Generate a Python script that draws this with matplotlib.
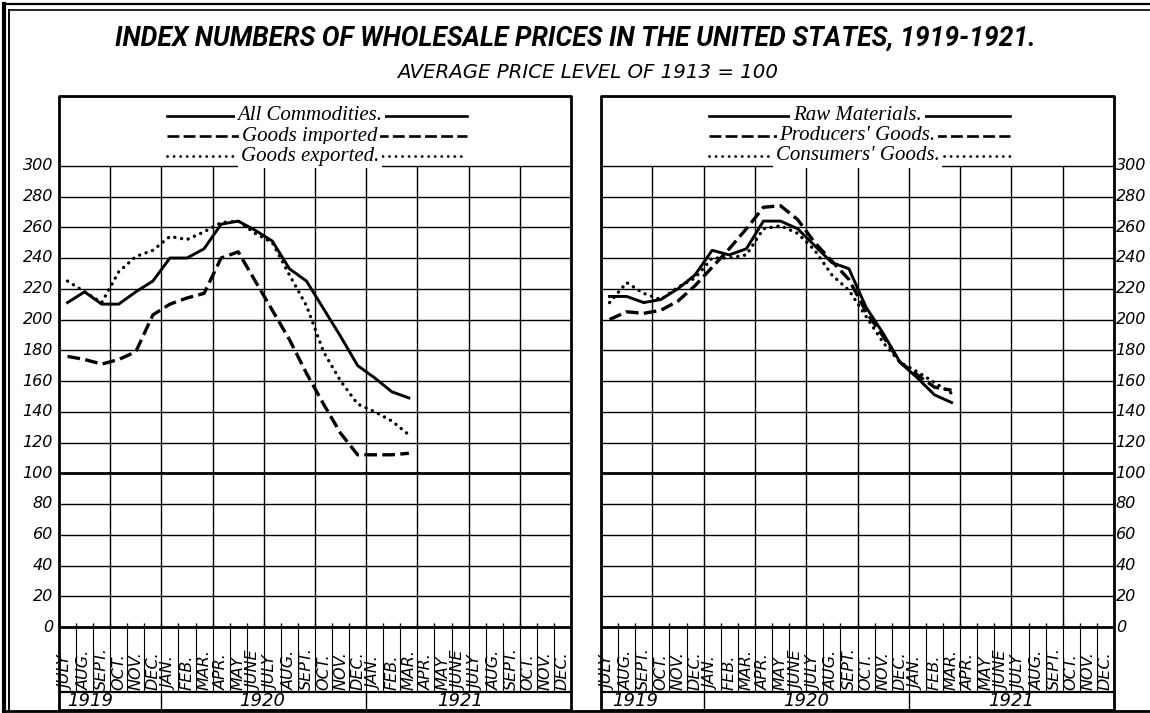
import matplotlib.pyplot as plt

W, H = 1150, 713

MONTHS = ['JULY', 'AUG.', 'SEPT.', 'OCT.', 'NOV.', 'DEC.',
          'JAN.', 'FEB.', 'MAR.', 'APR.', 'MAY', 'JUNE',
          'JULY', 'AUG.', 'SEPT.', 'OCT.', 'NOV.', 'DEC.',
          'JAN.', 'FEB.', 'MAR.', 'APR.', 'MAY', 'JUNE',
          'JULY', 'AUG.', 'SEPT.', 'OCT.', 'NOV.', 'DEC.']
YEARS = ['1919', '1920', '1921']
Y_TICKS = list(range(0, 301, 20))

# monthly index numbers, July 1919 .. March 1921 (1913 = 100)
left_names = ['All Commodities.', 'Goods imported', 'Goods exported.']
all_commodities = [211, 218, 210, 210, 218, 225, 240, 240, 246, 262, 264, 258,
                   251, 233, 225, 207, 189, 170, 162, 153, 149]
goods_imported = [176, 174, 171, 174, 179, 203, 210, 214, 217, 240, 244, 225,
                  206, 187, 165, 145, 126, 112, 112, 112, 113]
goods_exported = [225, 218, 211, 231, 241, 245, 254, 252, 257, 263, 264, 256,
                  250, 229, 209, 179, 160, 145, 140, 134, 125]

right_names = ['Raw Materials.', "Producers' Goods.", "Consumers' Goods."]
raw_materials = [215, 215, 211, 213, 220, 229, 245, 242, 246, 264, 264, 259,
                 248, 237, 233, 208, 191, 172, 162, 151, 146]
producers_goods = [200, 205, 204, 206, 212, 222, 234, 246, 259, 273, 274, 265,
                   250, 238, 226, 205, 189, 172, 164, 156, 154]
consumers_goods = [211, 224, 217, 213, 221, 227, 240, 240, 242, 259, 261, 256,
                   245, 229, 219, 202, 185, 172, 166, 159, 152]

STYLES = [
    dict(linestyle='-', lw=2.1),
    dict(linestyle=(0, (3.8, 1.6)), lw=2.4),
    dict(linestyle=(0, (0.05, 2.0)), lw=2.4, dash_capstyle='round'),
]
LEGEND_STYLES = [
    dict(linestyle='-', lw=1.9),
    dict(linestyle=(0, (4.5, 1.6)), lw=1.9),
    dict(linestyle=(0, (0.05, 2.3)), lw=2.0, dash_capstyle='round'),
]

# layout in pixels
TOP, ZERO, MONTH_BOT, BOTTOM = 96, 627, 692, 710
PPU = 30.75 / 20  # pixels per index point
Y_TOP = (ZERO - TOP) / PPU
Y_BOT = -(BOTTOM - ZERO) / PPU
Y_MONTH = -(MONTH_BOT - ZERO) / PPU

TICK_FONT = dict(family=['DejaVu Sans'], style='italic', fontsize=11.5)
YEAR_FONT = dict(family=['DejaVu Sans'], style='italic', fontsize=13)
LEGEND_FONT = dict(family=['Liberation Serif', 'DejaVu Serif'], style='italic', fontsize=15)


def draw_panel(ax, series, names, year_pos, label_side, text_shift):
    ax.set_xlim(0, 30)
    ax.set_ylim(Y_BOT, Y_TOP)
    ax.axis('off')
    k = dict(color='black', clip_on=False, solid_capstyle='butt')

    # frame and grid
    ax.plot([0, 30, 30, 0, 0], [Y_BOT, Y_BOT, Y_TOP, Y_TOP, Y_BOT], lw=2.0, **k)
    for v in Y_TICKS:
        ax.plot([0, 30], [v, v], lw=2.0 if v in (0, 100) else 1.0, **k)
    for x in range(3, 30, 3):
        ax.plot([x, x], [0, 300], lw=1.0, **k)
    for x in range(1, 30):
        ax.plot([x, x], [Y_MONTH, 0], lw=0.8, **k)
        ax.plot([x, x], [0, 2.6], lw=1.0, **k)
    ax.plot([0, 30], [Y_MONTH, Y_MONTH], lw=1.6, **k)
    for x in (6, 18):
        ax.plot([x, x], [Y_BOT, Y_MONTH], lw=1.0, **k)

    # month and year labels
    for i, m in enumerate(MONTHS):
        ax.text(i + 0.5, Y_MONTH + 1.5, m, rotation=90, ha='center', va='bottom',
                family='DejaVu Sans', style='italic', fontsize=11.5)
    for x, y in zip(year_pos, YEARS):
        ax.text(x, (Y_MONTH + Y_BOT) / 2, y, ha='center', va='center', **YEAR_FONT)

    # value labels
    for v in Y_TICKS:
        if label_side == 'left':
            ax.text(-0.35, v, str(v), ha='right', va='center', **TICK_FONT)
        else:
            ax.text(0.1 + 30, v, str(v), ha='left', va='center', **TICK_FONT)

    # curves
    for vals, st in zip(series, STYLES):
        xs = [i + 0.5 for i in range(len(vals))]
        ax.plot(xs, vals, color='black', zorder=3, **st)

    # legend rows
    for j, (name, st) in enumerate(zip(names, LEGEND_STYLES)):
        y = 300 + (ZERO - 300 * PPU - (116 + 20 * j)) / PPU
        ax.plot([15 - 8.7, 15 + 8.9], [y, y], color='black', **st)
        ax.text(15 + text_shift, y, name, ha='center', va='center',
                bbox=dict(fc='white', ec='none', pad=2), **LEGEND_FONT)


fig = plt.figure(figsize=(W / 100, H / 100), dpi=100)

bg = fig.add_axes([0, 0, 1, 1])
bg.set_xlim(0, W)
bg.set_ylim(H, 0)
bg.axis('off')
bg.plot([4, 4], [4, 711], color='black', lw=3.0)
bg.plot([9, 9], [10, 711], color='black', lw=1.4)
bg.plot([4, 1150], [4, 4], color='black', lw=1.6)
bg.plot([9, 1150], [10, 10], color='black', lw=1.2)
bg.plot([4, 1150], [711, 711], color='black', lw=2.0)

fig.text(575 / W, 1 - 38 / H, 'INDEX NUMBERS OF WHOLESALE PRICES IN THE UNITED STATES, 1919-1921.',
         ha='center', va='center', fontsize=19.1, weight='bold', style='italic',
         family=['Roboto', 'DejaVu Sans'])
fig.text(588 / W, 1 - 73 / H, 'AVERAGE PRICE LEVEL OF 1913 = 100',
         ha='center', va='center', fontsize=14.2, style='italic',
         family=['DejaVu Sans'])

ax_l = fig.add_axes([59 / W, 1 - BOTTOM / H, 512 / W, (BOTTOM - TOP) / H])
ax_r = fig.add_axes([601 / W, 1 - BOTTOM / H, 513 / W, (BOTTOM - TOP) / H])

draw_panel(ax_l, [all_commodities, goods_imported, goods_exported], left_names,
           [1.8, 11.9, 23.5], 'left', -0.3)
draw_panel(ax_r, [raw_materials, producers_goods, consumers_goods], right_names,
           [2.0, 12.0, 24.0], 'right', 0.0)

fig.savefig('out.png', dpi=100)
